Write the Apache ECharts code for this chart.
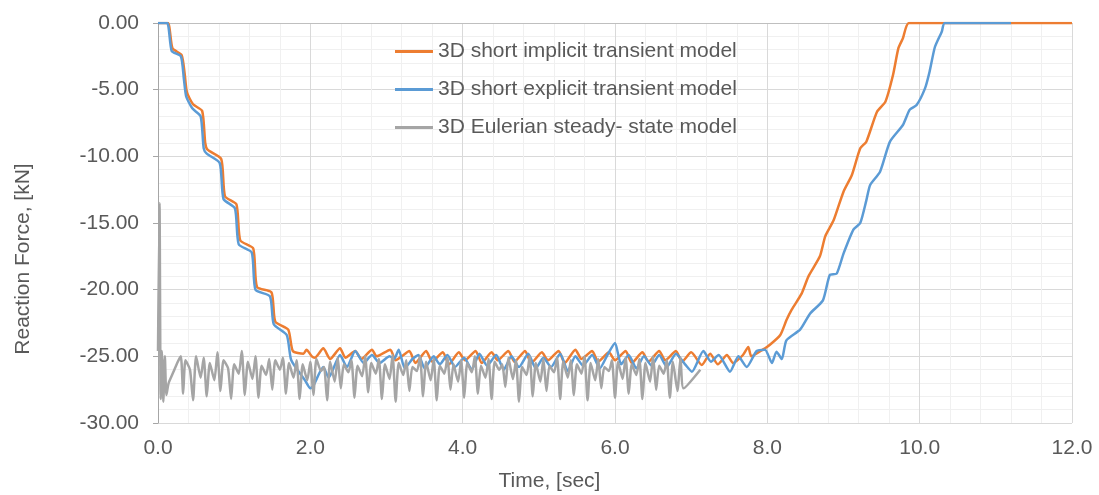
<!DOCTYPE html>
<html>
<head>
<meta charset="utf-8">
<script src="https://cdn.jsdelivr.net/npm/echarts@6/dist/echarts.min.js"></script>
<style>
html,body{margin:0;padding:0;background:#fff;}
#chart{width:1099px;height:495px;}
</style>
</head>
<body>
<div id="chart"></div>
<script>
const seriesNames = ["3D short implicit transient model", "3D short explicit transient model", "3D Eulerian steady- state model"];
const xAxisTitle = "Time, [sec]";
const yAxisTitle = "Reaction Force, [kN]";

// [time s, force kN]
const implicitData = [
[0,0],[0.13,0],[0.19,-1.9],[0.31,-2.4],[0.35,-3.8],[0.38,-5.2],[0.46,-6.1],[0.58,-6.6],[0.62,-9.0],[0.65,-9.5],
[0.83,-10.2],[0.88,-13.0],[1.03,-13.6],[1.08,-16.3],[1.25,-16.9],[1.30,-19.8],[1.49,-20.2],[1.54,-22.4],[1.71,-23.0],
[1.77,-24.6],[1.91,-24.8],[1.95,-24.5],[2.02,-25.0],[2.06,-25.1],[2.17,-24.4],[2.26,-25.2],[2.39,-24.4],[2.46,-25.1],
[2.59,-24.6],[2.67,-25.2],[2.81,-24.5],[2.87,-25.0],[3.05,-24.5],[3.12,-25.3],[3.20,-25.0],[3.30,-24.6],[3.38,-25.5],
[3.52,-24.6],[3.60,-25.4],[3.74,-24.7],[3.82,-25.6],[3.95,-24.7],[4.03,-25.3],[4.17,-24.6],[4.25,-25.5],[4.38,-24.7],
[4.46,-25.3],[4.60,-24.6],[4.68,-25.4],[4.82,-24.6],[4.90,-25.5],[5.04,-24.7],[5.12,-25.3],[5.26,-24.6],[5.34,-25.5],
[5.48,-24.5],[5.56,-25.2],[5.70,-24.6],[5.78,-25.4],[5.92,-24.7],[6.00,-25.3],[6.14,-24.6],[6.22,-25.5],[6.36,-24.7],
[6.44,-25.4],[6.58,-24.6],[6.66,-25.3],[6.80,-24.6],[6.88,-25.4],[7.00,-24.7],[7.14,-25.65],[7.25,-24.8],[7.35,-25.6],
[7.47,-24.9],[7.55,-25.5],[7.68,-24.9],[7.75,-24.3],[7.79,-25.0],[7.94,-24.5],[8.03,-24.15],[8.17,-23.4],[8.25,-22.3],
[8.32,-21.5],[8.45,-20.3],[8.54,-19.0],[8.69,-17.5],[8.76,-16.0],[8.87,-14.8],[9.00,-12.65],[9.11,-11.4],[9.22,-9.4],
[9.30,-8.9],[9.44,-6.65],[9.55,-5.9],[9.65,-3.9],[9.72,-1.9],[9.78,-1.15],[9.86,0],[12.0,0]
];

const explicitData = [
[0,0],[0.12,0],[0.18,-2.1],[0.30,-2.5],[0.34,-4.2],[0.37,-5.5],[0.45,-6.4],[0.56,-7.0],[0.60,-9.4],[0.64,-9.8],
[0.81,-10.5],[0.86,-13.2],[1.01,-13.9],[1.06,-16.6],[1.23,-17.2],[1.28,-20.0],[1.47,-20.5],[1.52,-22.6],[1.69,-23.4],
[1.75,-25.3],[1.93,-26.8],[2.00,-27.4],[2.04,-27.2],[2.17,-25.8],[2.24,-26.6],[2.39,-24.9],[2.48,-25.8],[2.59,-24.6],
[2.70,-25.5],[2.81,-24.9],[2.91,-25.5],[3.04,-25.0],[3.10,-25.2],[3.16,-24.5],[3.24,-25.9],[3.34,-25.2],[3.42,-24.9],
[3.50,-25.9],[3.62,-25.0],[3.70,-25.6],[3.80,-24.9],[3.90,-25.8],[4.02,-25.1],[4.12,-26.0],[4.22,-24.8],[4.32,-25.7],
[4.44,-24.9],[4.54,-26.0],[4.64,-25.0],[4.74,-25.8],[4.86,-24.8],[4.96,-25.9],[5.06,-25.1],[5.16,-25.8],[5.28,-24.8],
[5.38,-26.1],[5.48,-25.0],[5.58,-25.7],[5.70,-24.9],[5.80,-25.9],[5.90,-24.9],[6.00,-24.0],[6.08,-25.6],[6.18,-24.9],
[6.28,-25.9],[6.38,-25.0],[6.48,-25.7],[6.58,-24.9],[6.68,-25.8],[6.80,-24.8],[6.92,-25.6],[7.01,-26.15],[7.16,-24.6],
[7.26,-25.4],[7.36,-24.9],[7.51,-26.15],[7.62,-25.0],[7.73,-25.8],[7.86,-24.6],[7.97,-24.5],[8.06,-25.5],[8.12,-24.65],
[8.19,-25.2],[8.25,-23.8],[8.43,-23.0],[8.56,-21.8],[8.73,-20.8],[8.82,-18.9],[8.91,-18.8],[9.00,-17.3],[9.13,-15.5],
[9.22,-15.0],[9.30,-13.3],[9.35,-12.15],[9.48,-11.15],[9.61,-8.9],[9.78,-7.65],[9.87,-6.5],[9.96,-6.15],[10.07,-4.9],
[10.13,-3.65],[10.20,-1.8],[10.29,-0.65],[10.33,0],[11.2,0]
];

const eulerianData = [
[0.00,-24.6],[0.02,-13.5],[0.035,-28.2],[0.05,-24.6],[0.07,-28.4],[0.09,-25.0],[0.11,-27.9],[0.14,-27.0],[0.20,-26.2],
[0.26,-25.4],[0.30,-25.0],[0.33,-27.8],[0.36,-25.3],[0.42,-26.0],[0.46,-28.3],[0.50,-25.0],[0.56,-26.6],[0.60,-25.1],
[0.64,-28.0],[0.68,-25.5],[0.74,-26.8],[0.78,-24.7],[0.82,-27.6],[0.86,-25.3],[0.92,-25.9],[0.96,-28.2],[1.00,-25.6],
[1.06,-26.3],[1.10,-24.6],[1.14,-27.9],[1.18,-25.4],[1.24,-26.7],[1.28,-25.0],[1.32,-28.1],[1.36,-25.7],[1.42,-26.4],
[1.46,-25.2],[1.50,-27.5],[1.54,-25.3],[1.60,-26.0],[1.64,-25.1],[1.68,-27.8],[1.72,-25.5],[1.78,-26.6],[1.82,-25.3],
[1.86,-28.2],[1.90,-25.6],[1.96,-26.8],[2.00,-25.4],[2.04,-27.9],[2.08,-25.2],[2.14,-26.1],[2.18,-25.8],[2.22,-28.3],
[2.26,-25.4],[2.32,-26.9],[2.36,-25.1],[2.40,-27.4],[2.44,-25.6],[2.50,-26.2],[2.54,-25.3],[2.58,-28.1],[2.62,-25.7],
[2.68,-26.5],[2.72,-25.0],[2.76,-27.7],[2.80,-25.5],[2.86,-26.3],[2.90,-25.2],[2.94,-28.2],[2.98,-25.6],[3.04,-26.7],
[3.08,-24.9],[3.12,-28.4],[3.16,-25.5],[3.22,-26.4],[3.26,-25.3],[3.30,-27.6],[3.34,-25.8],[3.40,-26.1],[3.44,-25.0],
[3.48,-28.0],[3.52,-25.4],[3.58,-26.8],[3.62,-25.2],[3.66,-28.3],[3.70,-25.7],[3.76,-26.3],[3.80,-25.1],[3.84,-27.5],
[3.88,-25.6],[3.94,-26.9],[3.98,-25.3],[4.02,-28.1],[4.06,-25.5],[4.12,-26.2],[4.16,-25.0],[4.20,-27.8],[4.24,-25.7],
[4.30,-26.6],[4.34,-25.2],[4.38,-28.2],[4.42,-25.4],[4.48,-26.0],[4.52,-25.6],[4.56,-27.3],[4.60,-25.1],[4.66,-26.7],
[4.70,-25.3],[4.74,-28.4],[4.78,-25.8],[4.84,-26.4],[4.88,-25.0],[4.92,-28.0],[4.96,-25.5],[5.02,-26.9],[5.06,-25.2],
[5.10,-27.6],[5.14,-25.7],[5.20,-26.2],[5.24,-25.1],[5.28,-28.2],[5.32,-25.4],[5.38,-26.6],[5.42,-25.3],[5.46,-27.9],
[5.50,-25.6],[5.56,-26.3],[5.60,-25.0],[5.64,-28.3],[5.68,-25.5],[5.74,-26.8],[5.78,-25.2],[5.82,-27.4],[5.86,-25.8],
[5.92,-26.1],[5.96,-25.3],[6.00,-28.1],[6.04,-25.4],[6.10,-26.7],[6.14,-25.1],[6.18,-27.8],[6.22,-25.6],[6.28,-26.4],
[6.32,-25.2],[6.36,-28.2],[6.40,-25.5],[6.46,-26.9],[6.50,-25.0],[6.54,-27.5],[6.58,-25.7],[6.64,-26.3],[6.68,-25.3],
[6.72,-28.1],[6.76,-25.4],[6.82,-27.6],[6.86,-25.1],[6.90,-27.4],[7.12,-26.0]
];

const chart = echarts.init(document.getElementById('chart'), null, {renderer: 'canvas'});
const textColor = '#595959';
const fontFamily = '"Liberation Sans", Arial, sans-serif';

chart.setOption({
  animation: false,
  backgroundColor: '#ffffff',
  grid: {left: 158, right: 27, top: 23, bottom: 72, containLabel: false},
  legend: {
    orient: 'vertical',
    left: 390,
    top: 36,
    itemGap: 17,
    itemWidth: 38,
    itemHeight: 3,
    icon: 'rect',
    textStyle: {color: textColor, fontSize: 21, fontFamily: fontFamily, lineHeight: 21},
    data: seriesNames
  },
  xAxis: {
    type: 'value',
    min: 0, max: 12, interval: 2,
    axisLine: {show: true, lineStyle: {color: '#bfbfbf', width: 1}},
    axisTick: {show: false},
    axisLabel: {color: textColor, fontSize: 21, fontFamily: fontFamily, margin: 15, formatter: v => v.toFixed(1)},
    splitLine: {show: true, lineStyle: {color: '#d9d9d9', width: 1}},
    minorTick: {show: false, splitNumber: 5},
    minorSplitLine: {show: true, lineStyle: {color: '#f0f0f0', width: 1}}
  },
  yAxis: {
    type: 'value',
    min: -30, max: 0, interval: 5,
    axisLine: {show: true, onZero: false, lineStyle: {color: '#a6a6a6', width: 1}},
    axisTick: {show: true, length: 5, inside: false, lineStyle: {color: '#a6a6a6'}},
    axisLabel: {color: textColor, fontSize: 21, fontFamily: fontFamily, margin: 19, formatter: v => v.toFixed(2)},
    splitLine: {show: true, lineStyle: {color: '#d9d9d9', width: 1}},
    minorTick: {show: false, splitNumber: 5},
    minorSplitLine: {show: true, lineStyle: {color: '#f0f0f0', width: 1}}
  },
  graphic: [
    {type: 'text', left: 'center', top: 471,
     style: {text: xAxisTitle, fill: textColor, font: '21px ' + fontFamily}},
    {type: 'text', x: 23, y: 259, rotation: Math.PI / 2,
     style: {text: yAxisTitle, fill: textColor, font: '21px ' + fontFamily, align: 'center', verticalAlign: 'middle'}}
  ],
  series: [
    {name: seriesNames[0], type: 'line', data: implicitData, showSymbol: false, symbol: 'none',
     smooth: 0.2, color: '#ED7D31', lineStyle: {width: 2.5, color: '#ED7D31'}},
    {name: seriesNames[1], type: 'line', data: explicitData, showSymbol: false, symbol: 'none',
     smooth: 0.2, color: '#5B9BD5', lineStyle: {width: 2.5, color: '#5B9BD5'}},
    {name: seriesNames[2], type: 'line', data: eulerianData, showSymbol: false, symbol: 'none',
     smooth: 0.2, color: '#A5A5A5', lineStyle: {width: 2.5, color: '#A5A5A5'}}
  ]
});
</script>
</body>
</html>
